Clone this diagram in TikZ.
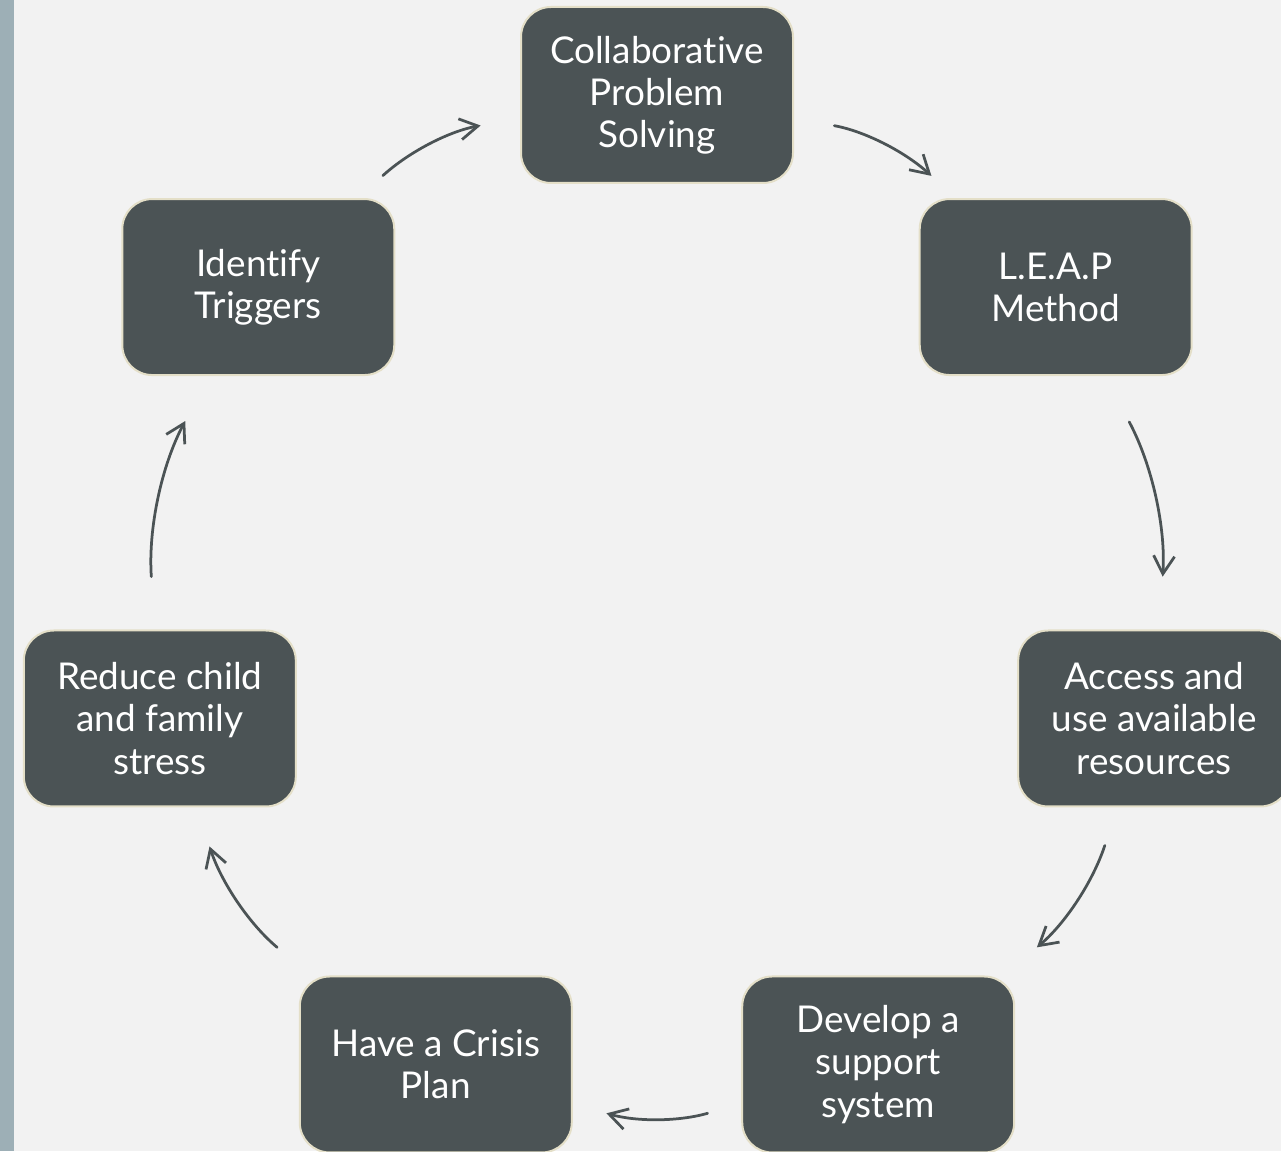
\documentclass[tikz,border=0pt]{standalone}
\usepackage{fontspec}
\setmainfont[Ligatures={NoCommon}]{Lato}
\usetikzlibrary{arrows.meta}
\definecolor{slate}{HTML}{4B5355}
\definecolor{cream}{HTML}{E4DFC8}
\definecolor{page}{HTML}{F2F2F2}
\definecolor{strip}{HTML}{9DAFB6}
\tikzset{
  stage/.style={draw=cream, line width=0.04cm, fill=slate, rounded corners=0.6cm,
    minimum width=5.44cm, minimum height=3.52cm, align=center, text=white,
    font=\fontsize{21}{24}\selectfont},
  cyc/.style={draw=slate, line width=0.055cm, line cap=round, bend left=16,
    -{Straight Barb[length=0.36cm,width=0.42cm]}}
}
\begin{document}
\begin{tikzpicture}
 \clip (0,0) rectangle (25.62,23.02);
 \fill[page] (0,0) rectangle (25.62,23.02);
 \fill[strip] (0,0) rectangle (0.28,23.02);
 \begin{scope}[shift={(13.14,10.92)}]
 % the seven stages, clockwise from the top
 \foreach \n/\a/\t in {collab/90/{Collaborative\\Problem\\Solving},
   leap/38.57/{L.E.A.P\\Method},
   access/-12.86/{Access and\\use available\\resources},
   develop/-64.29/{Develop a\\support\\system},
   crisis/-115.71/{Have a Crisis\\Plan},
   reduce/-167.14/{Reduce child\\and family\\stress},
   ident/141.43/{Identify\\Triggers}}
 \node[stage] (\n) at (\a:10.2) {\t};
 % arrows between the stages
 \foreach \a/\b/\s/\e in {ident/collab/0.67/0.8, collab/leap/0.82/0.66,
   leap/access/1.04/1.06, access/develop/0.8/0.88, develop/crisis/0.7/0.7,
   crisis/reduce/0.88/0.82, reduce/ident/1.06/1.02}
 \draw[cyc, shorten <=\s cm, shorten >=\e cm] (\a) to (\b);
 \end{scope}
\end{tikzpicture}
\end{document}
